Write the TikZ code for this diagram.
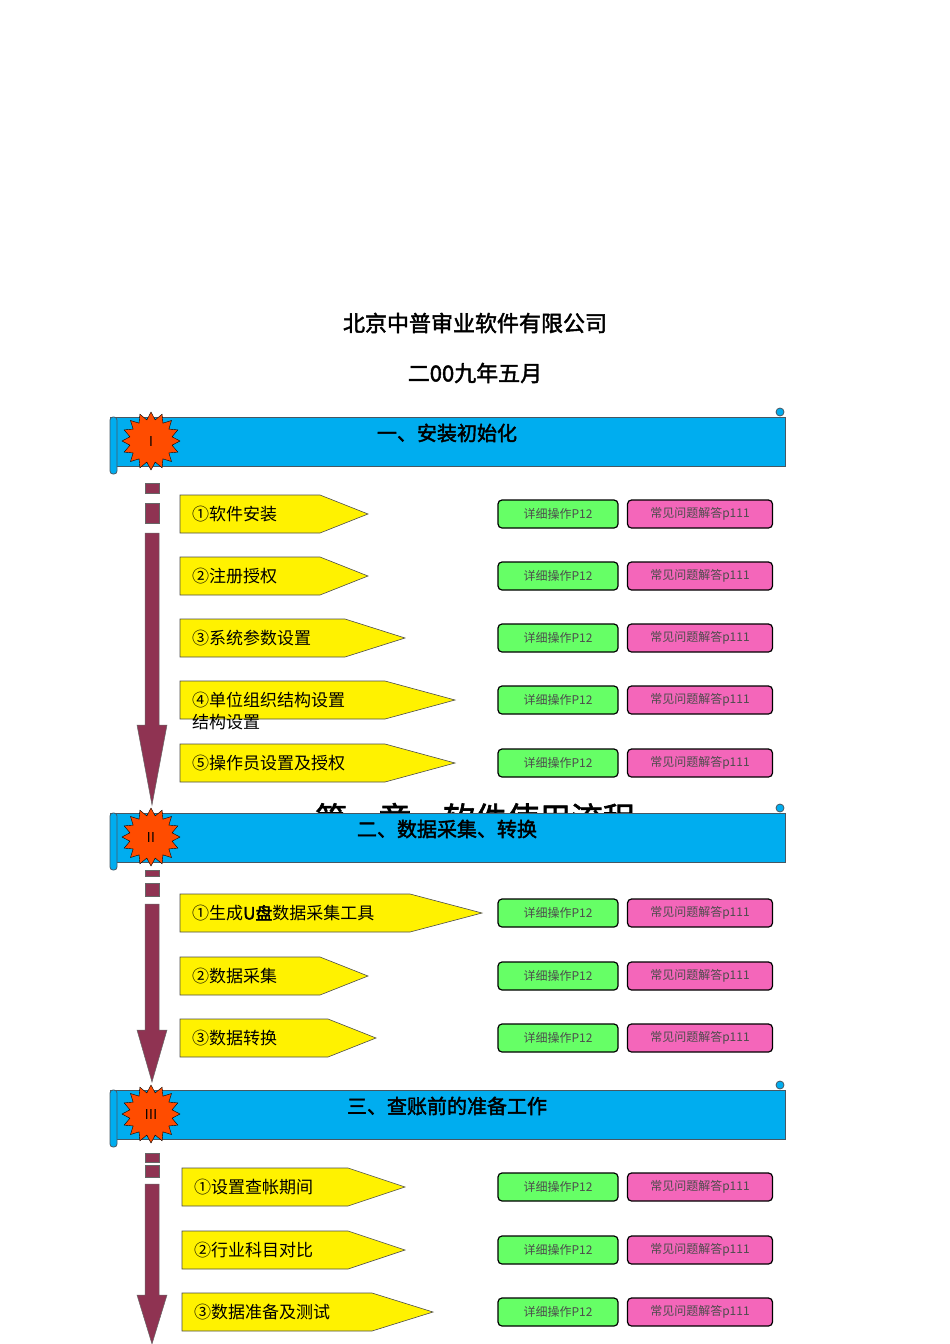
\documentclass[tikz,border=0pt]{standalone}
\usepackage{fontspec}
\setmainfont{Liberation Serif}
\newfontfamily\cjk{Noto Sans CJK SC}
\newfontfamily\cjkb{Noto Sans CJK SC}[FakeBold=2]
\usetikzlibrary{shapes.geometric}
\tikzset{
 ban/.style={fill=cyan,draw=black!70!cyan,line width=0.8pt},
 burst/.style={star,star points=16,star point ratio=1.35,minimum size=58pt,fill=orange!60!red,draw=black,inner sep=0pt,font=\sffamily\Large},
 shaft/.style={fill=purple!60!black!80,draw=black!60,line width=0.5pt},
 arr/.style={fill=yellow,draw=black!70,line width=0.6pt},
 lab/.style={font=\cjk\fontsize{17}{17}\selectfont,anchor=west,inner sep=0pt},
 gbox/.style={rounded corners=4pt,fill=green!60!white,draw=black,line width=1.2pt,minimum width=120pt,minimum height=28pt,font=\cjk\fontsize{12}{12}\selectfont,text=black!70},
 mbox/.style={rounded corners=4pt,fill=magenta!60,draw=black,line width=1.2pt,minimum width=145pt,minimum height=28pt,font=\cjk\fontsize{12}{12}\selectfont,text=black!70},
 btitle/.style={font=\cjkb\fontsize{20}{20}\selectfont}
}
\newcommand{\mybanner}[4]{%
 \draw[ban] (110,#1) rectangle (785,#1+49);
 \draw[ban] (780,#1-5) circle (4);
 \draw[ban,rounded corners=3pt] (110,#1) rectangle (117,#1+57);
 \node[burst] (#2s) at (151,#1+24) {#3};
 \node[btitle] (#2t) at (447,#1+16) {#4};
}
\newcommand{\mystepitem}[6]{%
 \draw[arr] (#2,#3-19) -- (#4,#3-19) -- (#5,#3) -- (#4,#3+19) -- (#2,#3+19) -- cycle;
 \node[lab] (#1) at (#2+12,#3) {#6};
 \node[gbox] (#1g) at (558,#3) {详细操作P12};
 \node[mbox] (#1m) at (700,#3) {常见问题解答p111};
}
\newcommand{\mydownarr}[7]{%
 \draw[shaft] (145,#1) rectangle (159,#2);
 \draw[shaft] (145,#3) rectangle (159,#4);
 \draw[shaft] (145,#5) -- (159,#5) -- (159,#6) -- (167,#6) -- (152,#7) -- (137,#6) -- (145,#6) -- cycle;
}
\begin{document}
\begin{tikzpicture}[x=1pt,y=-1pt]
\useasboundingbox (0,0) rectangle (950,1344);
\node[font=\cjkb\fontsize{22}{22}\selectfont] (t1) at (475,323) {北京中普审业软件有限公司};
\node[font=\cjkb\fontsize{22}{22}\selectfont] (t2) at (475,373) {二00九年五月};
\node[font=\cjkb\fontsize{32}{32}\selectfont] (ch) at (475,818) {第一章\quad 软件使用流程};
\mybanner{417}{a}{I}{一、安装初始化}
\mydownarr{483}{493}{503}{523}{533}{725}{805}
\mystepitem{a1}{180}{514}{320}{368}{①软件安装}
\mystepitem{a2}{180}{576}{320}{368}{②注册授权}
\mystepitem{a3}{180}{638}{345}{405}{③系统参数设置}
\mystepitem{a4}{180}{700}{385}{455}{④单位组织结构设置}
\node[lab] (a4x) at (192,722) {结构设置};
\mystepitem{a5}{180}{763}{385}{455}{⑤操作员设置及授权}
\mybanner{813}{b}{II}{二、数据采集、转换}
\mydownarr{870}{876}{883}{896}{904}{1030}{1082}
\mystepitem{b1}{180}{913}{410}{482}{①生成{\cjkb U盘}数据采集工具}
\mystepitem{b2}{180}{976}{320}{368}{②数据采集}
\mystepitem{b3}{180}{1038}{328}{376}{③数据转换}
\mybanner{1090}{c}{III}{三、查账前的准备工作}
\mydownarr{1153}{1162}{1165}{1177}{1184}{1295}{1344}
\mystepitem{c1}{182}{1187}{348}{405}{①设置查帐期间}
\mystepitem{c2}{182}{1250}{348}{405}{②行业科目对比}
\mystepitem{c3}{182}{1312}{372}{433}{③数据准备及测试}
\end{tikzpicture}
\end{document}
